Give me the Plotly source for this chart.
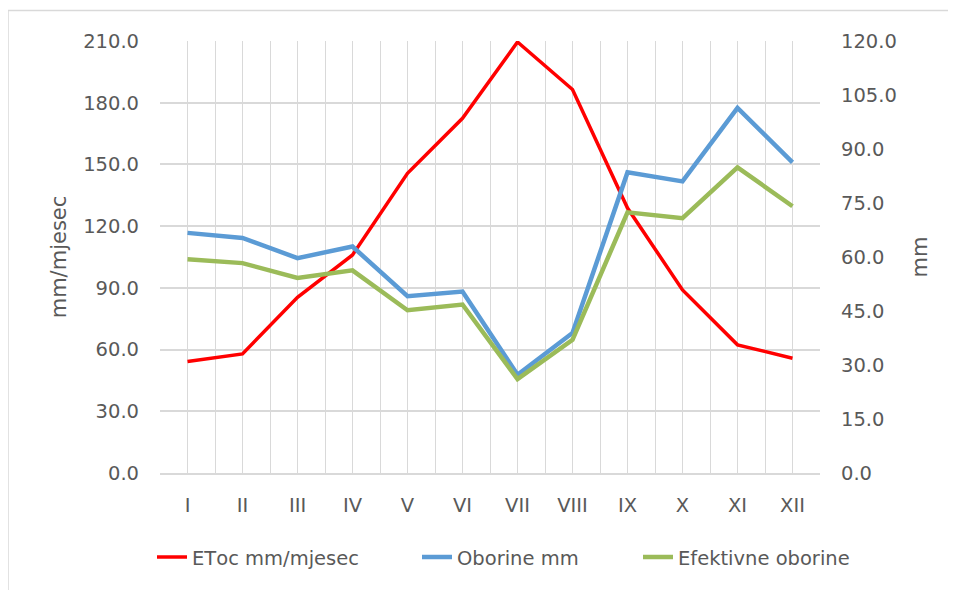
import plotly.graph_objects as go

months = ["I", "II", "III", "IV", "V", "VI", "VII", "VIII", "IX", "X", "XI", "XII"]
eto = [54.2, 57.9, 85.4, 106.0, 145.7, 172.4, 209.5, 186.4, 128.8, 89.0, 62.3, 55.8]
oborine = [66.7, 65.3, 59.7, 62.9, 49.1, 50.4, 27.3, 38.9, 83.5, 81.0, 101.4, 86.3]
efektivne = [59.4, 58.3, 54.2, 56.3, 45.2, 46.8, 26.1, 37.0, 72.4, 70.8, 84.9, 74.1]

left_ticks = [0, 30, 60, 90, 120, 150, 180, 210]
right_ticks = [0, 15, 30, 45, 60, 75, 90, 105, 120]

xpos = list(range(len(months)))

FONT = "DejaVu Sans"
TXT = "#595959"
GRID = "#D9D9D9"
FS = 19.5

PLOT_L, PLOT_W = 160, 660


def legend_at(text_px):
    box_left = text_px - 41
    return dict(orientation="h", x=(box_left - PLOT_L) / PLOT_W, xanchor="left",
                y=-0.195, yanchor="middle", font=dict(family=FONT, size=FS, color=TXT),
                bgcolor="rgba(0,0,0,0)")


fig = go.Figure()
fig.add_trace(go.Scatter(x=xpos, y=eto, name="ETоc mm/mjesec", mode="lines",
                         line=dict(color="#FF0000", width=3.5), yaxis="y", legend="legend"))
fig.add_trace(go.Scatter(x=xpos, y=oborine, name="Oborine mm", mode="lines",
                         line=dict(color="#5B9BD5", width=4.5), yaxis="y2", legend="legend2"))
fig.add_trace(go.Scatter(x=xpos, y=efektivne, name="Efektivne oborine", mode="lines",
                         line=dict(color="#9BBB59", width=4.5), yaxis="y2", legend="legend3"))

fig.update_layout(
    width=956, height=590,
    margin=dict(l=152, r=144, t=33, b=125),
    paper_bgcolor="white", plot_bgcolor="white",
    font=dict(family=FONT, size=FS, color=TXT),
    showlegend=True,
    legend=legend_at(193),
    legend2=legend_at(458),
    legend3=legend_at(679),
    xaxis=dict(range=[-0.5, 11.5], tickvals=xpos, ticktext=months,
               showgrid=True, gridcolor=GRID, gridwidth=1,
               minor=dict(tick0=-0.5, dtick=1, showgrid=True, gridcolor=GRID, gridwidth=1),
               zeroline=False, showline=True, linecolor=GRID, linewidth=1.5,
               ticks="", ticklabelstandoff=14,
               tickfont=dict(family=FONT, size=FS, color=TXT), fixedrange=True),
    yaxis=dict(range=[0, 210], tickvals=left_ticks, tickformat=".1f",
               showgrid=True, gridcolor=GRID, gridwidth=1.5, zeroline=False,
               ticks="", ticklabelstandoff=20,
               title=dict(text="mm/mjesec", font=dict(family=FONT, size=21, color=TXT), standoff=10),
               tickfont=dict(family=FONT, size=FS, color=TXT)),
    yaxis2=dict(range=[0, 120], tickvals=right_ticks, tickformat=".1f",
                overlaying="y", side="right", showgrid=False, zeroline=False,
                ticks="", ticklabelstandoff=20,
                title=dict(text="mm", font=dict(family=FONT, size=21, color=TXT), standoff=16),
                tickfont=dict(family=FONT, size=FS, color=TXT)),
)

# outer chart-area border (light grey)
fig.add_shape(type="rect", xref="paper", yref="paper",
              x0=(8 - 160) / 660, x1=(970 - 160) / 660,
              y0=(473.3 - 600) / 432.3, y1=(473.3 - 10.5) / 432.3,
              line=dict(color="#D9D9D9", width=1.5), fillcolor="rgba(0,0,0,0)", layer="below")

fig.write_html("out.html")
